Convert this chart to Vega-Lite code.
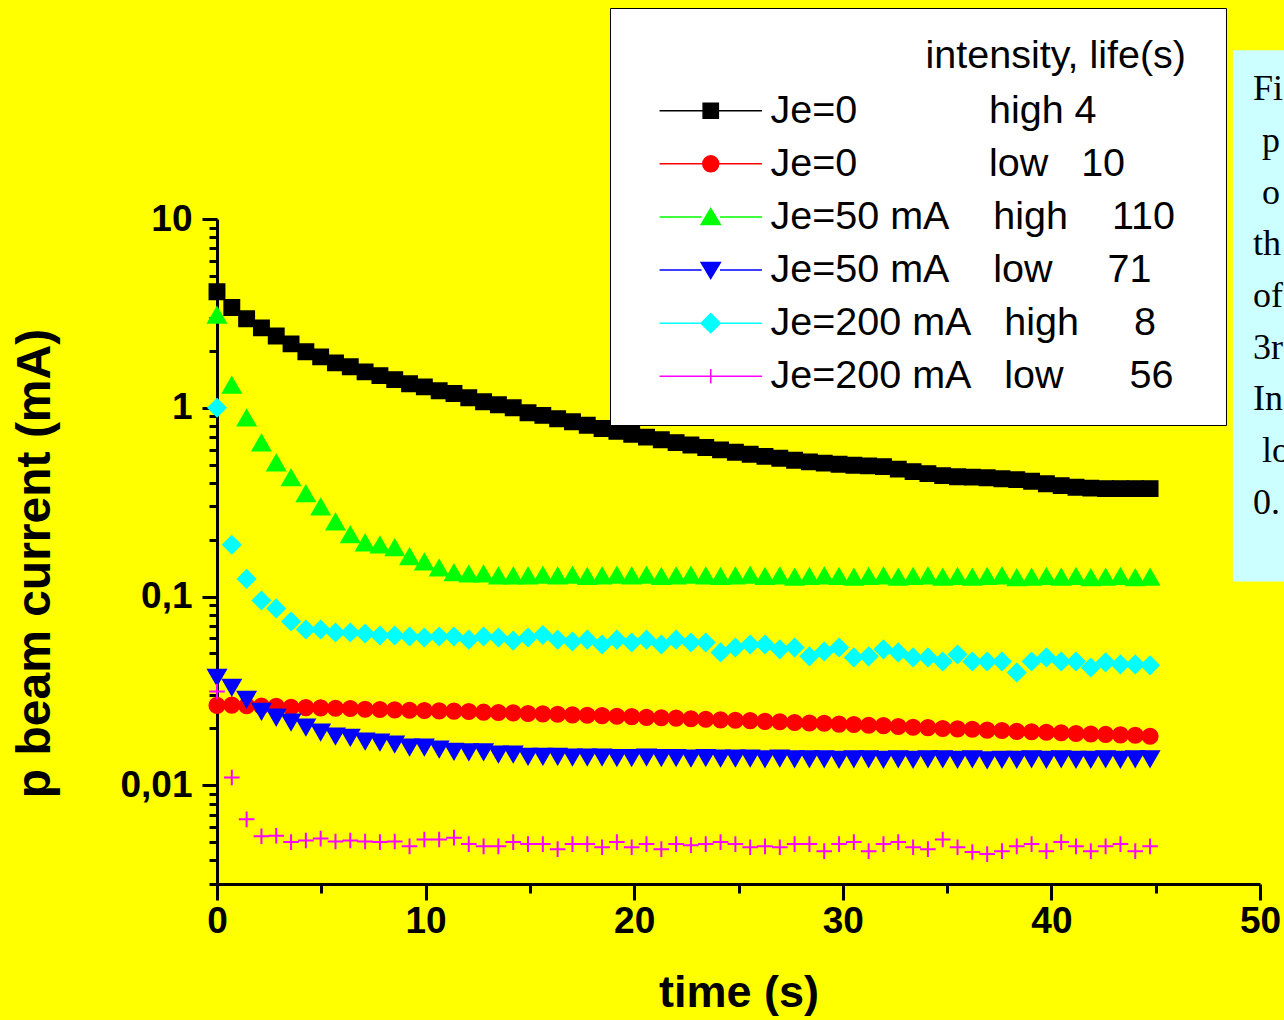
{
  "$schema": "https://vega.github.io/schema/vega-lite/v6.json",
  "width": 1043,
  "height": 665,
  "autosize": "none",
  "padding": {"left": 217, "top": 219, "right": 24, "bottom": 136},
  "background": "#ffff00",
  "config": {"view": {"stroke": null}},
  "data": {"values": [
{"s":"A","t":0,"v":4.12},{"s":"A","t":0.71,"v":3.4},{"s":"A","t":1.42,"v":2.96},{"s":"A","t":2.13,"v":2.65},{"s":"A","t":2.84,"v":2.4},{"s":"A","t":3.55,"v":2.18},{"s":"A","t":4.26,"v":1.98},{"s":"A","t":4.97,"v":1.86},{"s":"A","t":5.68,"v":1.73},{"s":"A","t":6.39,"v":1.65},
{"s":"A","t":7.1,"v":1.55},{"s":"A","t":7.81,"v":1.48},{"s":"A","t":8.52,"v":1.41},{"s":"A","t":9.23,"v":1.34},{"s":"A","t":9.94,"v":1.29},{"s":"A","t":10.65,"v":1.23},{"s":"A","t":11.36,"v":1.19},{"s":"A","t":12.07,"v":1.13},{"s":"A","t":12.78,"v":1.076},{"s":"A","t":13.49,"v":1.037},
{"s":"A","t":14.2,"v":1.0},{"s":"A","t":14.91,"v":0.941},{"s":"A","t":15.62,"v":0.911},{"s":"A","t":16.33,"v":0.875},{"s":"A","t":17.04,"v":0.843},{"s":"A","t":17.75,"v":0.808},{"s":"A","t":18.46,"v":0.776},{"s":"A","t":19.17,"v":0.75},{"s":"A","t":19.88,"v":0.724},{"s":"A","t":20.59,"v":0.699},
{"s":"A","t":21.3,"v":0.677},{"s":"A","t":22.01,"v":0.654},{"s":"A","t":22.72,"v":0.635},{"s":"A","t":23.43,"v":0.616},{"s":"A","t":24.14,"v":0.598},{"s":"A","t":24.85,"v":0.581},{"s":"A","t":25.56,"v":0.567},{"s":"A","t":26.27,"v":0.553},{"s":"A","t":26.98,"v":0.54},{"s":"A","t":27.69,"v":0.527},
{"s":"A","t":28.4,"v":0.517},{"s":"A","t":29.11,"v":0.509},{"s":"A","t":29.82,"v":0.502},{"s":"A","t":30.53,"v":0.496},{"s":"A","t":31.24,"v":0.492},{"s":"A","t":31.95,"v":0.488},{"s":"A","t":32.66,"v":0.473},{"s":"A","t":33.37,"v":0.459},{"s":"A","t":34.08,"v":0.448},{"s":"A","t":34.79,"v":0.437},
{"s":"A","t":35.5,"v":0.431},{"s":"A","t":36.21,"v":0.429},{"s":"A","t":36.92,"v":0.426},{"s":"A","t":37.63,"v":0.421},{"s":"A","t":38.34,"v":0.416},{"s":"A","t":39.05,"v":0.408},{"s":"A","t":39.76,"v":0.396},{"s":"A","t":40.47,"v":0.387},{"s":"A","t":41.18,"v":0.379},{"s":"A","t":41.89,"v":0.375},
{"s":"A","t":42.6,"v":0.373},{"s":"A","t":43.31,"v":0.373},{"s":"A","t":44.02,"v":0.373},{"s":"A","t":44.73,"v":0.373},
{"s":"B","t":0,"v":0.0265},{"s":"B","t":0.71,"v":0.0266},{"s":"B","t":1.42,"v":0.0264},{"s":"B","t":2.13,"v":0.0263},{"s":"B","t":2.84,"v":0.0262},{"s":"B","t":3.55,"v":0.0259},{"s":"B","t":4.26,"v":0.0258},{"s":"B","t":4.97,"v":0.0257},{"s":"B","t":5.68,"v":0.0256},{"s":"B","t":6.39,"v":0.0255},
{"s":"B","t":7.1,"v":0.0253},{"s":"B","t":7.81,"v":0.0252},{"s":"B","t":8.52,"v":0.0251},{"s":"B","t":9.23,"v":0.025},{"s":"B","t":9.94,"v":0.0249},{"s":"B","t":10.65,"v":0.0248},{"s":"B","t":11.36,"v":0.0247},{"s":"B","t":12.07,"v":0.0246},{"s":"B","t":12.78,"v":0.0244},{"s":"B","t":13.49,"v":0.0243},
{"s":"B","t":14.2,"v":0.0242},{"s":"B","t":14.91,"v":0.024},{"s":"B","t":15.62,"v":0.0239},{"s":"B","t":16.33,"v":0.0238},{"s":"B","t":17.04,"v":0.0236},{"s":"B","t":17.75,"v":0.0235},{"s":"B","t":18.46,"v":0.0234},{"s":"B","t":19.17,"v":0.0232},{"s":"B","t":19.88,"v":0.0231},{"s":"B","t":20.59,"v":0.0229},
{"s":"B","t":21.3,"v":0.0228},{"s":"B","t":22.01,"v":0.0227},{"s":"B","t":22.72,"v":0.0225},{"s":"B","t":23.43,"v":0.0224},{"s":"B","t":24.14,"v":0.0222},{"s":"B","t":24.85,"v":0.0221},{"s":"B","t":25.56,"v":0.022},{"s":"B","t":26.27,"v":0.0218},{"s":"B","t":26.98,"v":0.0217},{"s":"B","t":27.69,"v":0.0215},
{"s":"B","t":28.4,"v":0.0214},{"s":"B","t":29.11,"v":0.0213},{"s":"B","t":29.82,"v":0.0211},{"s":"B","t":30.53,"v":0.021},{"s":"B","t":31.24,"v":0.0208},{"s":"B","t":31.95,"v":0.0207},{"s":"B","t":32.66,"v":0.0205},{"s":"B","t":33.37,"v":0.0203},{"s":"B","t":34.08,"v":0.0202},{"s":"B","t":34.79,"v":0.02},
{"s":"B","t":35.5,"v":0.0199},{"s":"B","t":36.21,"v":0.0198},{"s":"B","t":36.92,"v":0.0196},{"s":"B","t":37.63,"v":0.0195},{"s":"B","t":38.34,"v":0.0193},{"s":"B","t":39.05,"v":0.0192},{"s":"B","t":39.76,"v":0.0191},{"s":"B","t":40.47,"v":0.019},{"s":"B","t":41.18,"v":0.0188},{"s":"B","t":41.89,"v":0.0187},
{"s":"B","t":42.6,"v":0.0186},{"s":"B","t":43.31,"v":0.0185},{"s":"B","t":44.02,"v":0.0184},{"s":"B","t":44.73,"v":0.0182},
{"s":"C","t":0,"v":3.1},{"s":"C","t":0.71,"v":1.32},{"s":"C","t":1.42,"v":0.885},{"s":"C","t":2.13,"v":0.653},{"s":"C","t":2.84,"v":0.512},{"s":"C","t":3.55,"v":0.427},{"s":"C","t":4.26,"v":0.351},{"s":"C","t":4.97,"v":0.299},{"s":"C","t":5.68,"v":0.249},{"s":"C","t":6.39,"v":0.213},
{"s":"C","t":7.1,"v":0.193},{"s":"C","t":7.81,"v":0.188},{"s":"C","t":8.52,"v":0.182},{"s":"C","t":9.23,"v":0.163},{"s":"C","t":9.94,"v":0.153},{"s":"C","t":10.65,"v":0.142},{"s":"C","t":11.36,"v":0.134},{"s":"C","t":12.07,"v":0.132},{"s":"C","t":12.78,"v":0.132},{"s":"C","t":13.49,"v":0.129},
{"s":"C","t":14.2,"v":0.129},{"s":"C","t":14.91,"v":0.129},{"s":"C","t":15.62,"v":0.13},{"s":"C","t":16.33,"v":0.129},{"s":"C","t":17.04,"v":0.13},{"s":"C","t":17.75,"v":0.128},{"s":"C","t":18.46,"v":0.129},{"s":"C","t":19.17,"v":0.13},{"s":"C","t":19.88,"v":0.129},{"s":"C","t":20.59,"v":0.13},
{"s":"C","t":21.3,"v":0.128},{"s":"C","t":22.01,"v":0.129},{"s":"C","t":22.72,"v":0.13},{"s":"C","t":23.43,"v":0.129},{"s":"C","t":24.14,"v":0.128},{"s":"C","t":24.85,"v":0.129},{"s":"C","t":25.56,"v":0.13},{"s":"C","t":26.27,"v":0.128},{"s":"C","t":26.98,"v":0.129},{"s":"C","t":27.69,"v":0.127},
{"s":"C","t":28.4,"v":0.128},{"s":"C","t":29.11,"v":0.129},{"s":"C","t":29.82,"v":0.128},{"s":"C","t":30.53,"v":0.127},{"s":"C","t":31.24,"v":0.128},{"s":"C","t":31.95,"v":0.129},{"s":"C","t":32.66,"v":0.127},{"s":"C","t":33.37,"v":0.128},{"s":"C","t":34.08,"v":0.129},{"s":"C","t":34.79,"v":0.127},
{"s":"C","t":35.5,"v":0.128},{"s":"C","t":36.21,"v":0.127},{"s":"C","t":36.92,"v":0.128},{"s":"C","t":37.63,"v":0.129},{"s":"C","t":38.34,"v":0.126},{"s":"C","t":39.05,"v":0.127},{"s":"C","t":39.76,"v":0.128},{"s":"C","t":40.47,"v":0.127},{"s":"C","t":41.18,"v":0.128},{"s":"C","t":41.89,"v":0.126},
{"s":"C","t":42.6,"v":0.127},{"s":"C","t":43.31,"v":0.128},{"s":"C","t":44.02,"v":0.126},{"s":"C","t":44.73,"v":0.127},
{"s":"D","t":0,"v":0.0373},{"s":"D","t":0.71,"v":0.033},{"s":"D","t":1.42,"v":0.0285},{"s":"D","t":2.13,"v":0.0246},{"s":"D","t":2.84,"v":0.0229},{"s":"D","t":3.55,"v":0.0216},{"s":"D","t":4.26,"v":0.0203},{"s":"D","t":4.97,"v":0.0191},{"s":"D","t":5.68,"v":0.0182},{"s":"D","t":6.39,"v":0.0179},
{"s":"D","t":7.1,"v":0.0171},{"s":"D","t":7.81,"v":0.0169},{"s":"D","t":8.52,"v":0.0165},{"s":"D","t":9.23,"v":0.0159},{"s":"D","t":9.94,"v":0.0159},{"s":"D","t":10.65,"v":0.0155},{"s":"D","t":11.36,"v":0.0151},{"s":"D","t":12.07,"v":0.015},{"s":"D","t":12.78,"v":0.015},{"s":"D","t":13.49,"v":0.0146},
{"s":"D","t":14.2,"v":0.0146},{"s":"D","t":14.91,"v":0.0142},{"s":"D","t":15.62,"v":0.0142},{"s":"D","t":16.33,"v":0.0142},{"s":"D","t":17.04,"v":0.0141},{"s":"D","t":17.75,"v":0.0141},{"s":"D","t":18.46,"v":0.0141},{"s":"D","t":19.17,"v":0.014},{"s":"D","t":19.88,"v":0.014},{"s":"D","t":20.59,"v":0.0141},
{"s":"D","t":21.3,"v":0.014},{"s":"D","t":22.01,"v":0.014},{"s":"D","t":22.72,"v":0.0139},{"s":"D","t":23.43,"v":0.014},{"s":"D","t":24.14,"v":0.0139},{"s":"D","t":24.85,"v":0.0139},{"s":"D","t":25.56,"v":0.0139},{"s":"D","t":26.27,"v":0.0138},{"s":"D","t":26.98,"v":0.0139},{"s":"D","t":27.69,"v":0.0138},
{"s":"D","t":28.4,"v":0.0138},{"s":"D","t":29.11,"v":0.0138},{"s":"D","t":29.82,"v":0.0137},{"s":"D","t":30.53,"v":0.0138},{"s":"D","t":31.24,"v":0.0138},{"s":"D","t":31.95,"v":0.0137},{"s":"D","t":32.66,"v":0.0138},{"s":"D","t":33.37,"v":0.0137},{"s":"D","t":34.08,"v":0.0138},{"s":"D","t":34.79,"v":0.0138},
{"s":"D","t":35.5,"v":0.0137},{"s":"D","t":36.21,"v":0.0138},{"s":"D","t":36.92,"v":0.0136},{"s":"D","t":37.63,"v":0.0137},{"s":"D","t":38.34,"v":0.0137},{"s":"D","t":39.05,"v":0.0138},{"s":"D","t":39.76,"v":0.0137},{"s":"D","t":40.47,"v":0.0138},{"s":"D","t":41.18,"v":0.0137},{"s":"D","t":41.89,"v":0.0137},
{"s":"D","t":42.6,"v":0.0138},{"s":"D","t":43.31,"v":0.0137},{"s":"D","t":44.02,"v":0.0138},{"s":"D","t":44.73,"v":0.0138},
{"s":"E","t":0,"v":1.0},{"s":"E","t":0.71,"v":0.188},{"s":"E","t":1.42,"v":0.124},{"s":"E","t":2.13,"v":0.0953},{"s":"E","t":2.84,"v":0.0865},{"s":"E","t":3.55,"v":0.0738},{"s":"E","t":4.26,"v":0.0669},{"s":"E","t":4.97,"v":0.0669},{"s":"E","t":5.68,"v":0.0645},{"s":"E","t":6.39,"v":0.0645},
{"s":"E","t":7.1,"v":0.0637},{"s":"E","t":7.81,"v":0.0622},{"s":"E","t":8.52,"v":0.0622},{"s":"E","t":9.23,"v":0.0614},{"s":"E","t":9.94,"v":0.0607},{"s":"E","t":10.65,"v":0.0614},{"s":"E","t":11.36,"v":0.0614},{"s":"E","t":12.07,"v":0.0591},{"s":"E","t":12.78,"v":0.0614},{"s":"E","t":13.49,"v":0.0607},
{"s":"E","t":14.2,"v":0.0584},{"s":"E","t":14.91,"v":0.0607},{"s":"E","t":15.62,"v":0.0625},{"s":"E","t":16.33,"v":0.0591},{"s":"E","t":17.04,"v":0.0578},{"s":"E","t":17.75,"v":0.0591},{"s":"E","t":18.46,"v":0.0557},{"s":"E","t":19.17,"v":0.0591},{"s":"E","t":19.88,"v":0.0571},{"s":"E","t":20.59,"v":0.0591},
{"s":"E","t":21.3,"v":0.0557},{"s":"E","t":22.01,"v":0.0591},{"s":"E","t":22.72,"v":0.0571},{"s":"E","t":23.43,"v":0.0571},{"s":"E","t":24.14,"v":0.0506},{"s":"E","t":24.85,"v":0.0537},{"s":"E","t":25.56,"v":0.0557},{"s":"E","t":26.27,"v":0.0557},{"s":"E","t":26.98,"v":0.0525},{"s":"E","t":27.69,"v":0.0537},
{"s":"E","t":28.4,"v":0.0482},{"s":"E","t":29.11,"v":0.0512},{"s":"E","t":29.82,"v":0.0537},{"s":"E","t":30.53,"v":0.0476},{"s":"E","t":31.24,"v":0.0482},{"s":"E","t":31.95,"v":0.0525},{"s":"E","t":32.66,"v":0.0506},{"s":"E","t":33.37,"v":0.0476},{"s":"E","t":34.08,"v":0.0476},{"s":"E","t":34.79,"v":0.0453},
{"s":"E","t":35.5,"v":0.0493},{"s":"E","t":36.21,"v":0.0453},{"s":"E","t":36.92,"v":0.0453},{"s":"E","t":37.63,"v":0.0453},{"s":"E","t":38.34,"v":0.0396},{"s":"E","t":39.05,"v":0.0453},{"s":"E","t":39.76,"v":0.0476},{"s":"E","t":40.47,"v":0.0453},{"s":"E","t":41.18,"v":0.0453},{"s":"E","t":41.89,"v":0.0421},
{"s":"E","t":42.6,"v":0.0448},{"s":"E","t":43.31,"v":0.0437},{"s":"E","t":44.02,"v":0.0437},{"s":"E","t":44.73,"v":0.0432},
{"s":"F","t":0,"v":0.0314},{"s":"F","t":0.71,"v":0.011},{"s":"F","t":1.42,"v":0.0066},{"s":"F","t":2.13,"v":0.00537},{"s":"F","t":2.84,"v":0.0054},{"s":"F","t":3.55,"v":0.005},{"s":"F","t":4.26,"v":0.0051},{"s":"F","t":4.97,"v":0.00522},{"s":"F","t":5.68,"v":0.00504},{"s":"F","t":6.39,"v":0.0051},
{"s":"F","t":7.1,"v":0.00504},{"s":"F","t":7.81,"v":0.005},{"s":"F","t":8.52,"v":0.00504},{"s":"F","t":9.23,"v":0.00475},{"s":"F","t":9.94,"v":0.00516},{"s":"F","t":10.65,"v":0.00516},{"s":"F","t":11.36,"v":0.00528},{"s":"F","t":12.07,"v":0.00488},{"s":"F","t":12.78,"v":0.00475},{"s":"F","t":13.49,"v":0.00475},
{"s":"F","t":14.2,"v":0.005},{"s":"F","t":14.91,"v":0.00488},{"s":"F","t":15.62,"v":0.00488},{"s":"F","t":16.33,"v":0.00459},{"s":"F","t":17.04,"v":0.00488},{"s":"F","t":17.75,"v":0.00488},{"s":"F","t":18.46,"v":0.0047},{"s":"F","t":19.17,"v":0.005},{"s":"F","t":19.88,"v":0.0047},{"s":"F","t":20.59,"v":0.00488},
{"s":"F","t":21.3,"v":0.00459},{"s":"F","t":22.01,"v":0.00488},{"s":"F","t":22.72,"v":0.00482},{"s":"F","t":23.43,"v":0.00488},{"s":"F","t":24.14,"v":0.005},{"s":"F","t":24.85,"v":0.00488},{"s":"F","t":25.56,"v":0.0047},{"s":"F","t":26.27,"v":0.00475},{"s":"F","t":26.98,"v":0.0047},{"s":"F","t":27.69,"v":0.00488},
{"s":"F","t":28.4,"v":0.00488},{"s":"F","t":29.11,"v":0.00448},{"s":"F","t":29.82,"v":0.00488},{"s":"F","t":30.53,"v":0.005},{"s":"F","t":31.24,"v":0.00448},{"s":"F","t":31.95,"v":0.00488},{"s":"F","t":32.66,"v":0.005},{"s":"F","t":33.37,"v":0.0047},{"s":"F","t":34.08,"v":0.00459},{"s":"F","t":34.79,"v":0.00516},
{"s":"F","t":35.5,"v":0.0047},{"s":"F","t":36.21,"v":0.00443},{"s":"F","t":36.92,"v":0.00432},{"s":"F","t":37.63,"v":0.00448},{"s":"F","t":38.34,"v":0.00475},{"s":"F","t":39.05,"v":0.00488},{"s":"F","t":39.76,"v":0.00448},{"s":"F","t":40.47,"v":0.005},{"s":"F","t":41.18,"v":0.00475},{"s":"F","t":41.89,"v":0.00448},
{"s":"F","t":42.6,"v":0.00475},{"s":"F","t":43.31,"v":0.00488},{"s":"F","t":44.02,"v":0.00448},{"s":"F","t":44.73,"v":0.00475}
  ]},
  "encoding": {
    "x": {
      "field": "t", "type": "quantitative", "title": "time (s)",
      "scale": {"domain": [0, 50], "nice": false, "zero": false},
      "axis": {
        "values": [0, 5, 10, 15, 20, 25, 30, 35, 40, 45, 50],
        "labelExpr": "datum.value % 10 === 0 ? datum.label : ''",
        "tickSize": {"condition": {"test": "datum.value % 10 === 0", "value": 16}, "value": 9},
        "tickWidth": 3, "tickColor": "black", "domainWidth": 3, "domainColor": "black", "grid": false,
        "labelFont": "Liberation Sans", "labelFontSize": 37, "labelFontWeight": "bold", "labelColor": "black",
        "labelPadding": 3, "labelOverlap": false, "labelFlush": false, "labelBound": false,
        "title": "time (s)", "titleFont": "Liberation Sans", "titleFontSize": 45, "titleFontWeight": "bold", "titleColor": "black", "titlePadding": 31
      }
    },
    "y": {
      "field": "v", "type": "quantitative", "title": "p beam current (mA)",
      "scale": {"type": "log", "domain": [0.003, 10], "nice": false},
      "axis": {
        "values": [0.003, 0.004, 0.005, 0.006, 0.007, 0.008, 0.009, 0.01, 0.02, 0.03, 0.04, 0.05, 0.06, 0.07, 0.08, 0.09, 0.1, 0.2, 0.3, 0.4, 0.5, 0.6, 0.7, 0.8, 0.9, 1, 2, 3, 4, 5, 6, 7, 8, 9, 10],
        "labelExpr": "datum.value === 10 ? '10' : datum.value === 1 ? '1' : datum.value === 0.1 ? '0,1' : datum.value === 0.01 ? '0,01' : ''",
        "tickSize": {"condition": {"test": "datum.value === 10 || datum.value === 1 || datum.value === 0.1 || datum.value === 0.01", "value": 15}, "value": 8},
        "tickWidth": 3, "tickColor": "black", "domainWidth": 3, "domainColor": "black", "grid": false,
        "labelFont": "Liberation Sans", "labelFontSize": 37, "labelFontWeight": "bold", "labelColor": "black",
        "labelPadding": 10, "labelOverlap": false, "labelFlush": false, "labelBound": false,
        "title": "p beam current (mA)", "titleFont": "Liberation Sans", "titleFontSize": 48, "titleFontWeight": "bold", "titleColor": "black", "titlePadding": 60, "titleY": 344
      }
    }
  },
  "layer": [
    {"transform": [{"filter": "datum.s === 'A'"}], "mark": {"type": "point", "shape": "M-0.77,-0.77H0.77V0.77H-0.77Z", "size": 400, "filled": true, "fill": "#000000", "stroke": "#000000", "strokeWidth": 1.5, "opacity": 1}},
    {"transform": [{"filter": "datum.s === 'B'"}], "mark": {"type": "point", "shape": "M-0.78,0A0.78,0.78,0,1,1,0.78,0A0.78,0.78,0,1,1,-0.78,0Z", "size": 400, "filled": true, "fill": "#ff0000", "stroke": "#ff0000", "strokeWidth": 1.5, "opacity": 1}},
    {"transform": [{"filter": "datum.s === 'C'"}], "mark": {"type": "point", "shape": "M0,-0.8L0.92,0.8H-0.92Z", "size": 400, "filled": true, "fill": "#00ff00", "stroke": "#00ff00", "strokeWidth": 1.5, "opacity": 1}},
    {"transform": [{"filter": "datum.s === 'D'"}], "mark": {"type": "point", "shape": "M0,0.8L0.92,-0.8H-0.92Z", "size": 400, "filled": true, "fill": "#0000ff", "stroke": "#0000ff", "strokeWidth": 1.5, "opacity": 1}},
    {"transform": [{"filter": "datum.s === 'E'"}], "mark": {"type": "point", "shape": "M0,-0.9L0.9,0L0,0.9L-0.9,0Z", "size": 400, "filled": true, "fill": "#00ffff", "stroke": "#00ffff", "strokeWidth": 1.5, "opacity": 1}},
    {"transform": [{"filter": "datum.s === 'F'"}], "mark": {"type": "point", "shape": "M-0.78,0H0.78M0,-0.78V0.78", "size": 400, "filled": false, "stroke": "#ff00ff", "strokeWidth": 2, "opacity": 1}},
    {
      "transform": [{"filter": "datum.s === 'A' && datum.t === 0"}],
      "mark": {"type": "rect", "fill": "#ccffff", "stroke": null},
      "encoding": {"x": {"datum": 48.7}, "x2": {"datum": 53}, "y": {"datum": 78.4}, "y2": {"datum": 0.12}}
    },
    {
      "transform": [{"filter": "datum.s === 'A' && datum.t === 0"}],
      "mark": {"type": "text", "text": ["Fi", "\u200b\u00a0p", "\u200b\u00a0o", "th", "of", "3r", "In", "\u200b\u00a0lo", "0."], "font": "Liberation Serif", "fontSize": 36, "align": "left", "baseline": "alphabetic", "lineHeight": 51.7, "color": "black"},
      "encoding": {"x": {"datum": 49.66}, "y": {"datum": 42.6}}
    },
    {
      "mark": {"type": "point", "opacity": 0, "size": 256, "filled": true},
      "encoding": {
        "shape": {"field": "s", "type": "nominal",
          "scale": {"domain": ["A", "B", "C", "D", "E", "F"], "range": [
            "M-6.4,0H-0.95M0.95,0H6.4M-0.95,-0.95H0.95V0.95H-0.95Z",
            "M-6.4,0H-1M1,0H6.4M-1,0A1,1,0,1,1,1,0A1,1,0,1,1,-1,0Z",
            "M-6.4,0H-1.15M1.15,0H6.4M0,-1.05L1.2,0.95H-1.2Z",
            "M-6.4,0H-1.15M1.15,0H6.4M0,1.05L1.2,-0.95H-1.2Z",
            "M-6.4,0H-1.15M1.15,0H6.4M0,-1.2L1.2,0L0,1.2L-1.2,0Z",
            "M-6.4,0H6.4M0,-0.9V0.9"]},
          "legend": {"orient": "none", "legendX": 393, "legendY": -211, "title": "intensity, life(s)\u00a0\u200b", "titleFont": "Liberation Sans", "titleFontSize": 39.5, "titleFontWeight": "normal", "titleColor": "black", "titleAnchor": "end", "titlePadding": 14.5, "titleLimit": 2000, "labelFont": "Liberation Sans", "labelFontSize": 39.5, "labelColor": "black", "labelLimit": 2000, "labelOffset": 40, "symbolSize": 256, "symbolOffset": 52, "symbolStrokeWidth": 1.5, "symbolOpacity": 1, "rowPadding": 12.1, "padding": 29, "fillColor": "white", "strokeColor": "black",
            "labelExpr": "datum.value === 'A' ? 'Je=0\u00a0\u00a0\u00a0\u00a0\u00a0\u00a0\u00a0\u00a0\u00a0\u00a0\u00a0\u00a0high\u00a04' : datum.value === 'B' ? 'Je=0\u00a0\u00a0\u00a0\u00a0\u00a0\u00a0\u00a0\u00a0\u00a0\u00a0\u00a0\u00a0low\u00a0\u00a0\u00a010' : datum.value === 'C' ? 'Je=50\u00a0mA\u00a0\u00a0\u00a0\u00a0high\u00a0\u00a0\u00a0\u00a0110\u00a0\u00a0\u200b' : datum.value === 'D' ? 'Je=50\u00a0mA\u00a0\u00a0\u00a0\u00a0low\u00a0\u00a0\u00a0\u00a0\u00a071' : datum.value === 'E' ? 'Je=200\u00a0mA\u00a0\u00a0\u00a0high\u00a0\u00a0\u00a0\u00a0\u00a08' : 'Je=200\u00a0mA\u00a0\u00a0\u00a0low\u00a0\u00a0\u00a0\u00a0\u00a0\u00a056'"}
        },
        "fill": {"field": "s", "type": "nominal",
          "scale": {"domain": ["A", "B", "C", "D", "E", "F"], "range": ["#000000", "#ff0000", "#00ff00", "#0000ff", "#00ffff", "transparent"]},
          "legend": {"orient": "none", "legendX": 393, "legendY": -211, "title": "intensity, life(s)\u00a0\u200b", "titleFont": "Liberation Sans", "titleFontSize": 39.5, "titleFontWeight": "normal", "titleColor": "black", "titleAnchor": "end", "titlePadding": 14.5, "titleLimit": 2000, "labelFont": "Liberation Sans", "labelFontSize": 39.5, "labelColor": "black", "labelLimit": 2000, "labelOffset": 40, "symbolSize": 256, "symbolOffset": 52, "symbolStrokeWidth": 1.5, "symbolOpacity": 1, "rowPadding": 12.1, "padding": 29, "fillColor": "white", "strokeColor": "black",
            "labelExpr": "datum.value === 'A' ? 'Je=0\u00a0\u00a0\u00a0\u00a0\u00a0\u00a0\u00a0\u00a0\u00a0\u00a0\u00a0\u00a0high\u00a04' : datum.value === 'B' ? 'Je=0\u00a0\u00a0\u00a0\u00a0\u00a0\u00a0\u00a0\u00a0\u00a0\u00a0\u00a0\u00a0low\u00a0\u00a0\u00a010' : datum.value === 'C' ? 'Je=50\u00a0mA\u00a0\u00a0\u00a0\u00a0high\u00a0\u00a0\u00a0\u00a0110\u00a0\u00a0\u200b' : datum.value === 'D' ? 'Je=50\u00a0mA\u00a0\u00a0\u00a0\u00a0low\u00a0\u00a0\u00a0\u00a0\u00a071' : datum.value === 'E' ? 'Je=200\u00a0mA\u00a0\u00a0\u00a0high\u00a0\u00a0\u00a0\u00a0\u00a08' : 'Je=200\u00a0mA\u00a0\u00a0\u00a0low\u00a0\u00a0\u00a0\u00a0\u00a0\u00a056'"}
        },
        "stroke": {"field": "s", "type": "nominal",
          "scale": {"domain": ["A", "B", "C", "D", "E", "F"], "range": ["#000000", "#ff0000", "#00ff00", "#0000ff", "#00ffff", "#ff00ff"]},
          "legend": {"orient": "none", "legendX": 393, "legendY": -211, "title": "intensity, life(s)\u00a0\u200b", "titleFont": "Liberation Sans", "titleFontSize": 39.5, "titleFontWeight": "normal", "titleColor": "black", "titleAnchor": "end", "titlePadding": 14.5, "titleLimit": 2000, "labelFont": "Liberation Sans", "labelFontSize": 39.5, "labelColor": "black", "labelLimit": 2000, "labelOffset": 40, "symbolSize": 256, "symbolOffset": 52, "symbolStrokeWidth": 1.5, "symbolOpacity": 1, "rowPadding": 12.1, "padding": 29, "fillColor": "white", "strokeColor": "black",
            "labelExpr": "datum.value === 'A' ? 'Je=0\u00a0\u00a0\u00a0\u00a0\u00a0\u00a0\u00a0\u00a0\u00a0\u00a0\u00a0\u00a0high\u00a04' : datum.value === 'B' ? 'Je=0\u00a0\u00a0\u00a0\u00a0\u00a0\u00a0\u00a0\u00a0\u00a0\u00a0\u00a0\u00a0low\u00a0\u00a0\u00a010' : datum.value === 'C' ? 'Je=50\u00a0mA\u00a0\u00a0\u00a0\u00a0high\u00a0\u00a0\u00a0\u00a0110\u00a0\u00a0\u200b' : datum.value === 'D' ? 'Je=50\u00a0mA\u00a0\u00a0\u00a0\u00a0low\u00a0\u00a0\u00a0\u00a0\u00a071' : datum.value === 'E' ? 'Je=200\u00a0mA\u00a0\u00a0\u00a0high\u00a0\u00a0\u00a0\u00a0\u00a08' : 'Je=200\u00a0mA\u00a0\u00a0\u00a0low\u00a0\u00a0\u00a0\u00a0\u00a0\u00a056'"}
        }
      }
    }
  ]
}
